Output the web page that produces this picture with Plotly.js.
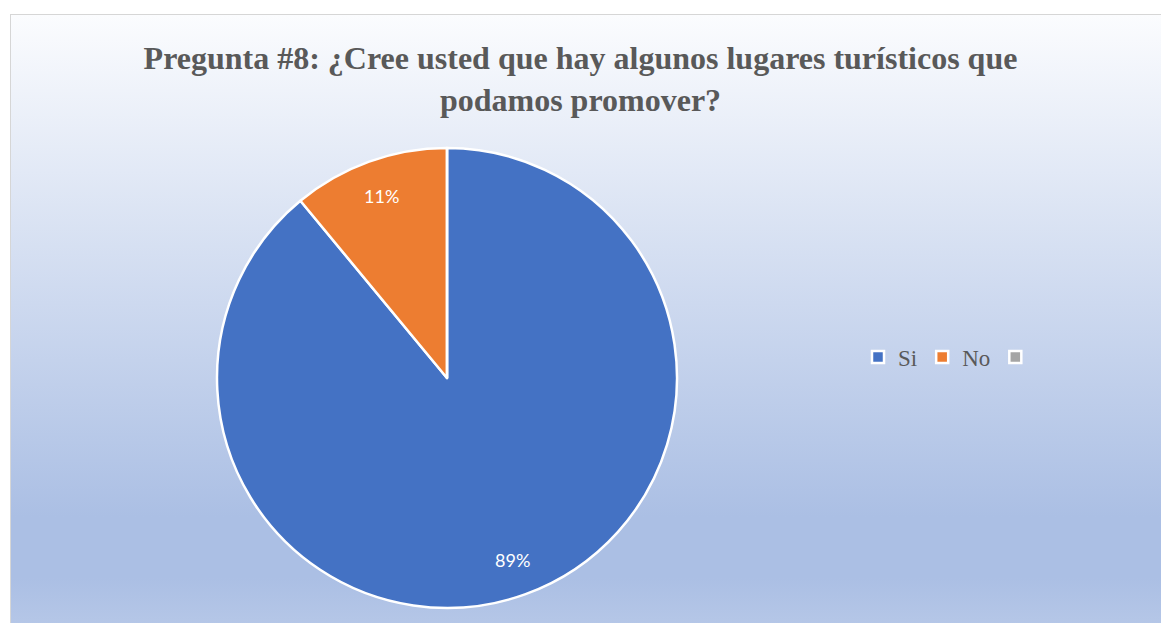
<!DOCTYPE html>
<html>
<head>
<meta charset="utf-8">
<script src="https://cdn.plot.ly/plotly-3.0.1.min.js"></script>
<style>
  html, body { margin:0; padding:0; background:#ffffff; overflow:hidden; }
  #box {
    position:absolute; left:10px; top:14px; width:1200px; height:680px;
    border:1px solid #d6d6d6; box-sizing:border-box;
    background: linear-gradient(to bottom, #fbfcfe 0%, #abbfe4 74%, #abbfe4 83%, #c4d2ec 100%);
  }
  #chart { position:absolute; left:0; top:0; width:1161px; height:623px; }
</style>
</head>
<body>
<div id="box"></div>
<div id="chart"></div>
<script>
const categories = ["Si", "No", " "];
const values = [89, 11, 0];
const colors = ["#4472C4", "#ED7D31", "#A5A5A5"];
const titleText = "Pregunta #8: ¿Cree usted que hay algunos lugares turísticos que<br>podamos promover?";

const W = 1161, H = 623;
const cx = 447, cy = 378, r = 230;

const trace = {
  type: "pie",
  labels: categories,
  values: values,
  sort: false,
  direction: "clockwise",
  rotation: 0,
  marker: { colors: colors, line: { color: "#ffffff", width: 2.5 } },
  textinfo: "none",
  hoverinfo: "none",
  domain: { x: [(cx - r) / W, (cx + r) / W], y: [(H - cy - r) / H, (H - cy + r) / H] }
};

// percentage labels placed at each slice's mid-angle, computed from the values
const total = values.reduce((a, b) => a + b, 0);
const annotations = [];
let acc = 0;
values.forEach((v, i) => {
  if (v > 0) {
    const mid = (acc + v / 2) / total * 2 * Math.PI;
    const f = 0.84;
    const px = cx + f * r * Math.sin(mid);
    const py = cy - f * r * Math.cos(mid);
    annotations.push({
      text: Math.round(v / total * 100) + "%",
      x: px / W, y: (H - py) / H, xref: "paper", yref: "paper",
      xanchor: "center", yanchor: "middle", showarrow: false,
      font: { family: "Lato, 'Open Sans', sans-serif", size: 18, color: "#ffffff" }
    });
  }
  acc += v;
});

const layout = {
  width: W, height: H,
  margin: { l: 0, r: 0, t: 0, b: 0 },
  paper_bgcolor: "rgba(0,0,0,0)",
  plot_bgcolor: "rgba(0,0,0,0)",
  title: {
    text: titleText,
    font: { family: "'Liberation Serif', 'Times New Roman', serif", size: 32, color: "#595959", weight: "bold" },
    x: 0.5, xanchor: "center", xref: "paper",
    y: 1 - 69 / H, yanchor: "top", yref: "container"
  },
  annotations: annotations,
  showlegend: true,
  legend: {
    orientation: "h",
    x: 858 / W, xanchor: "left",
    y: (H - 357) / H, yanchor: "middle",
    font: { family: "'Liberation Serif', 'Times New Roman', serif", size: 23, color: "#595959" },
    bgcolor: "rgba(0,0,0,0)",
    itemwidth: 30,
    traceorder: "normal"
  }
};

Plotly.newPlot("chart", [trace], layout, { displayModeBar: false, staticPlot: true });
</script>
</body>
</html>
